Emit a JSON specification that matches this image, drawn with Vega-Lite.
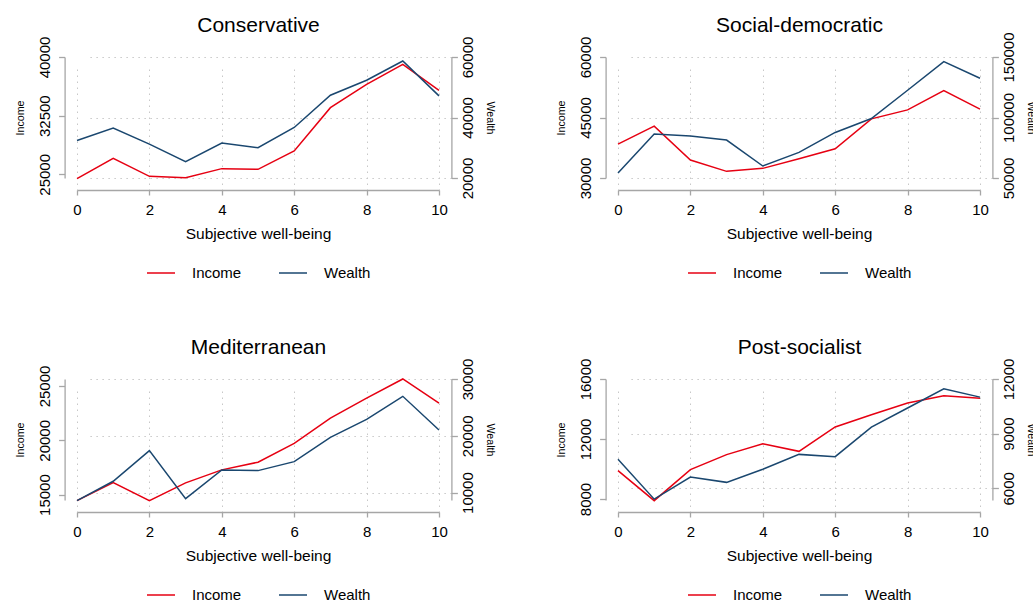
{
  "$schema": "https://vega.github.io/schema/vega-lite/v6.json",
  "background": "white",
  "padding": {"left": 14, "top": 14, "right": 0, "bottom": 0},
  "data": {"values": [
    {"regime": "Conservative", "swb": 0, "income": 24446, "wealth": 32418},
    {"regime": "Conservative", "swb": 1, "income": 27045, "wealth": 36482},
    {"regime": "Conservative", "swb": 2, "income": 24744, "wealth": 31206},
    {"regime": "Conservative", "swb": 3, "income": 24574, "wealth": 25382},
    {"regime": "Conservative", "swb": 4, "income": 25724, "wealth": 31536},
    {"regime": "Conservative", "swb": 5, "income": 25639, "wealth": 29997},
    {"regime": "Conservative", "swb": 6, "income": 27983, "wealth": 36702},
    {"regime": "Conservative", "swb": 7, "income": 33523, "wealth": 47363},
    {"regime": "Conservative", "swb": 8, "income": 36506, "wealth": 52308},
    {"regime": "Conservative", "swb": 9, "income": 39063, "wealth": 58681},
    {"regime": "Conservative", "swb": 10, "income": 35739, "wealth": 47143},
    {"regime": "Social-democratic", "swb": 0, "income": 38407, "wealth": 54125},
    {"regime": "Social-democratic", "swb": 1, "income": 42857, "wealth": 86270},
    {"regime": "Social-democratic", "swb": 2, "income": 34451, "wealth": 84622},
    {"regime": "Social-democratic", "swb": 3, "income": 31648, "wealth": 81325},
    {"regime": "Social-democratic", "swb": 4, "income": 32390, "wealth": 59900},
    {"regime": "Social-democratic", "swb": 5, "income": 34780, "wealth": 71160},
    {"regime": "Social-democratic", "swb": 6, "income": 37253, "wealth": 87640},
    {"regime": "Social-democratic", "swb": 7, "income": 44670, "wealth": 99180},
    {"regime": "Social-democratic", "swb": 8, "income": 46896, "wealth": 122530},
    {"regime": "Social-democratic", "swb": 9, "income": 51676, "wealth": 146150},
    {"regime": "Social-democratic", "swb": 10, "income": 47060, "wealth": 132420},
    {"regime": "Mediterranean", "swb": 0, "income": 14446, "wealth": 8592},
    {"regime": "Mediterranean", "swb": 1, "income": 16108, "wealth": 11994},
    {"regime": "Mediterranean", "swb": 2, "income": 14446, "wealth": 17390},
    {"regime": "Mediterranean", "swb": 3, "income": 16077, "wealth": 8944},
    {"regime": "Mediterranean", "swb": 4, "income": 17277, "wealth": 13988},
    {"regime": "Mediterranean", "swb": 5, "income": 17985, "wealth": 13871},
    {"regime": "Mediterranean", "swb": 6, "income": 19708, "wealth": 15455},
    {"regime": "Mediterranean", "swb": 7, "income": 22046, "wealth": 19736},
    {"regime": "Mediterranean", "swb": 8, "income": 23892, "wealth": 22903},
    {"regime": "Mediterranean", "swb": 9, "income": 25646, "wealth": 26950},
    {"regime": "Mediterranean", "swb": 10, "income": 23431, "wealth": 21026},
    {"regime": "Post-socialist", "swb": 0, "income": 9889, "wealth": 7591},
    {"regime": "Post-socialist", "swb": 1, "income": 7889, "wealth": 5404},
    {"regime": "Post-socialist", "swb": 2, "income": 9956, "wealth": 6615},
    {"regime": "Post-socialist", "swb": 3, "income": 10956, "wealth": 6326},
    {"regime": "Post-socialist", "swb": 4, "income": 11689, "wealth": 7049},
    {"regime": "Post-socialist", "swb": 5, "income": 11178, "wealth": 7862},
    {"regime": "Post-socialist", "swb": 6, "income": 12800, "wealth": 7735},
    {"regime": "Post-socialist", "swb": 7, "income": 13622, "wealth": 9362},
    {"regime": "Post-socialist", "swb": 8, "income": 14400, "wealth": 10410},
    {"regime": "Post-socialist", "swb": 9, "income": 14889, "wealth": 11458},
    {"regime": "Post-socialist", "swb": 10, "income": 14711, "wealth": 11006}
  ]},
  "columns": 2,
  "spacing": {"row": 55, "column": 59},
  "resolve": {"scale": {"color": "independent"}, "legend": {"color": "independent"}},
  "concat": [
    {
      "transform": [{"filter": "datum.regime == 'Conservative'"}],
      "width": 362, "height": 121,
      "resolve": {"scale": {"y": "independent"}, "axis": {"x": "independent"}},
      "layer": [
        {"mark": {"type": "line", "strokeWidth": 1.5},
         "encoding": {
           "x": {"field": "swb", "type": "quantitative", "scale": {"domain": [0, 10], "nice": false}, "axis": {"orient": "bottom", "values": [0, 2, 4, 6, 8, 10], "title": "Subjective well-being"}},
           "y": {"field": "income", "type": "quantitative", "scale": {"domain": [24527, 40000], "nice": false, "zero": false}, "axis": {"orient": "left", "values": [25000, 32500, 40000], "title": "Income", "grid": false}},
           "color": {"datum": "Income", "type": "nominal", "scale": {"domain": ["Income", "Wealth"], "range": ["#e60012", "#1a476f"]}}
         }},
        {"mark": {"type": "line", "strokeWidth": 1.5},
         "encoding": {
           "x": {"field": "swb", "type": "quantitative", "axis": {"orient": "top", "title": "Conservative"}},
           "y": {"field": "wealth", "type": "quantitative", "scale": {"domain": [20000, 60000], "nice": false, "zero": false}, "axis": {"orient": "right", "values": [20000, 40000, 60000], "title": "Wealth", "grid": true}},
           "color": {"datum": "Wealth", "type": "nominal"}
         }}
      ]
    },
    {
      "transform": [{"filter": "datum.regime == 'Social-democratic'"}],
      "width": 362, "height": 121,
      "resolve": {"scale": {"y": "independent"}, "axis": {"x": "independent"}},
      "layer": [
        {"mark": {"type": "line", "strokeWidth": 1.5},
         "encoding": {
           "x": {"field": "swb", "type": "quantitative", "scale": {"domain": [0, 10], "nice": false}, "axis": {"orient": "bottom", "values": [0, 2, 4, 6, 8, 10], "title": "Subjective well-being"}},
           "y": {"field": "income", "type": "quantitative", "scale": {"domain": [30000, 60000], "nice": false, "zero": false}, "axis": {"orient": "left", "values": [30000, 45000, 60000], "title": "Income", "grid": false}},
           "color": {"datum": "Income", "type": "nominal", "scale": {"domain": ["Income", "Wealth"], "range": ["#e60012", "#1a476f"]}}
         }},
        {"mark": {"type": "line", "strokeWidth": 1.5},
         "encoding": {
           "x": {"field": "swb", "type": "quantitative", "axis": {"orient": "top", "title": "Social-democratic"}},
           "y": {"field": "wealth", "type": "quantitative", "scale": {"domain": [50000, 150000], "nice": false, "zero": false}, "axis": {"orient": "right", "values": [50000, 100000, 150000], "title": "Wealth", "grid": true}},
           "color": {"datum": "Wealth", "type": "nominal"}
         }}
      ]
    },
    {
      "transform": [{"filter": "datum.regime == 'Mediterranean'"}],
      "width": 362, "height": 121,
      "resolve": {"scale": {"y": "independent"}, "axis": {"x": "independent"}},
      "layer": [
        {"mark": {"type": "line", "strokeWidth": 1.5},
         "encoding": {
           "x": {"field": "swb", "type": "quantitative", "scale": {"domain": [0, 10], "nice": false}, "axis": {"orient": "bottom", "values": [0, 2, 4, 6, 8, 10], "title": "Subjective well-being"}},
           "y": {"field": "income", "type": "quantitative", "scale": {"domain": [14503, 25645], "nice": false, "zero": false}, "axis": {"orient": "left", "values": [15000, 20000, 25000], "title": "Income", "grid": false}},
           "color": {"datum": "Income", "type": "nominal", "scale": {"domain": ["Income", "Wealth"], "range": ["#e60012", "#1a476f"]}}
         }},
        {"mark": {"type": "line", "strokeWidth": 1.5},
         "encoding": {
           "x": {"field": "swb", "type": "quantitative", "axis": {"orient": "top", "title": "Mediterranean"}},
           "y": {"field": "wealth", "type": "quantitative", "scale": {"domain": [8697, 30000], "nice": false, "zero": false}, "axis": {"orient": "right", "values": [10000, 20000, 30000], "title": "Wealth", "grid": true}},
           "color": {"datum": "Wealth", "type": "nominal"}
         }}
      ]
    },
    {
      "transform": [{"filter": "datum.regime == 'Post-socialist'"}],
      "width": 362, "height": 121,
      "resolve": {"scale": {"y": "independent"}, "axis": {"x": "independent"}},
      "layer": [
        {"mark": {"type": "line", "strokeWidth": 1.5},
         "encoding": {
           "x": {"field": "swb", "type": "quantitative", "scale": {"domain": [0, 10], "nice": false}, "axis": {"orient": "bottom", "values": [0, 2, 4, 6, 8, 10], "title": "Subjective well-being"}},
           "y": {"field": "income", "type": "quantitative", "scale": {"domain": [7933, 16000], "nice": false, "zero": false}, "axis": {"orient": "left", "values": [8000, 12000, 16000], "title": "Income", "grid": false}},
           "color": {"datum": "Income", "type": "nominal", "scale": {"domain": ["Income", "Wealth"], "range": ["#e60012", "#1a476f"]}}
         }},
        {"mark": {"type": "line", "strokeWidth": 1.5},
         "encoding": {
           "x": {"field": "swb", "type": "quantitative", "axis": {"orient": "top", "title": "Post-socialist"}},
           "y": {"field": "wealth", "type": "quantitative", "scale": {"domain": [5358, 12000], "nice": false, "zero": false}, "axis": {"orient": "right", "values": [6000, 9000, 12000], "title": "Wealth", "grid": true}},
           "color": {"datum": "Wealth", "type": "nominal"}
         }}
      ]
    }
  ],
  "config": {
    "font": "Liberation Sans",
    "view": {"stroke": null},
    "axis": {
      "domainColor": "#a6a6a6", "domainWidth": 1.3,
      "tickColor": "#a6a6a6", "tickWidth": 1.3,
      "labelColor": "#000000", "labelFontSize": 15, "labelFlush": false, "labelOverlap": false, "format": "d",
      "titleColor": "#000000", "titleFontWeight": "normal",
      "gridColor": "#c8c8c8", "gridDash": [1.5, 4.5], "gridWidth": 1
    },
    "axisBottom": {"offset": 12, "tickSize": 5, "labelAngle": 0, "labelPadding": 7, "titleFontSize": 15.5, "titlePadding": 9, "grid": true},
    "axisTop": {"domain": false, "ticks": false, "labels": false, "grid": false, "titleFontSize": 21, "titlePadding": 22},
    "axisLeft": {"offset": 12.4, "tickSize": 6, "labelAngle": 270, "labelAlign": "center", "labelBaseline": "bottom", "labelPadding": 6.5, "titleFontSize": 10.7, "titlePadding": 11.5},
    "axisRight": {"offset": 12.4, "tickSize": 6, "labelAngle": 270, "labelAlign": "center", "labelBaseline": "top", "labelPadding": 3, "titleFontSize": 10.7, "titlePadding": 9.5},
    "legend": {
      "orient": "bottom", "direction": "horizontal", "title": null,
      "symbolType": "stroke", "symbolSize": 784, "symbolStrokeWidth": 1.5,
      "labelFontSize": 15, "labelColor": "#000000", "labelOffset": 16, "columnPadding": 34, "offset": 16,
      "layout": {"bottom": {"anchor": "middle"}}
    }
  }
}
